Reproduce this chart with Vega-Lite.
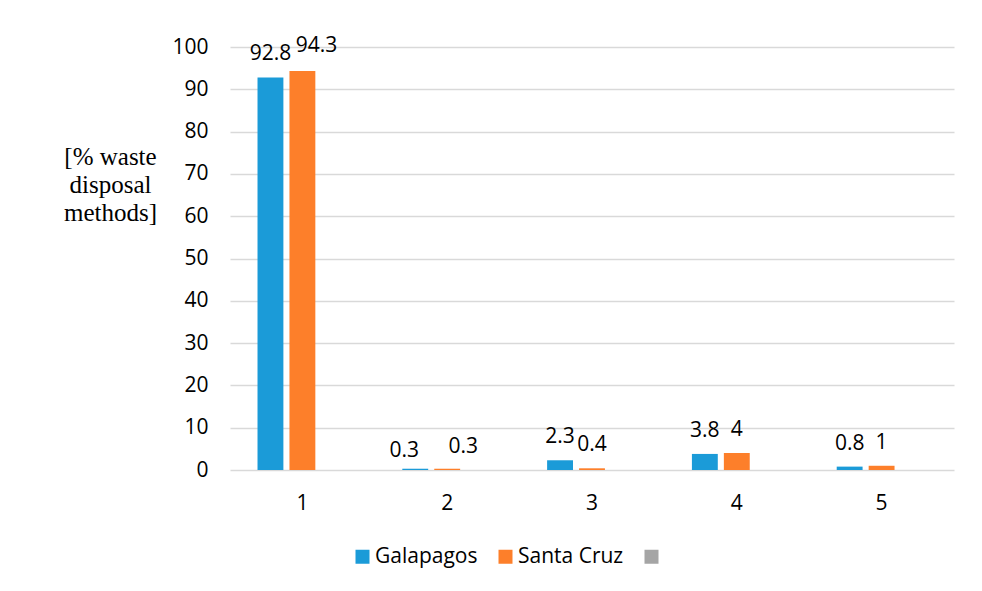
{
  "$schema": "https://vega.github.io/schema/vega-lite/v6.json",
  "autosize": {"type": "none"},
  "width": 724,
  "height": 423,
  "padding": {"left": 230, "top": 47, "right": 28, "bottom": 121},
  "background": "white",
  "config": {
    "view": {"stroke": null},
    "font": "Open Sans",
    "axis": {"labelFont": "Open Sans", "labelFontSize": 21, "labelColor": "#000000"}
  },
  "data": {
    "values": [
      {"cat": "1", "series": "Galapagos", "value": 92.8},
      {"cat": "1", "series": "Santa Cruz", "value": 94.3},
      {"cat": "1", "series": "Series3", "value": 0},
      {"cat": "2", "series": "Galapagos", "value": 0.3},
      {"cat": "2", "series": "Santa Cruz", "value": 0.3},
      {"cat": "2", "series": "Series3", "value": 0},
      {"cat": "3", "series": "Galapagos", "value": 2.3},
      {"cat": "3", "series": "Santa Cruz", "value": 0.4},
      {"cat": "3", "series": "Series3", "value": 0},
      {"cat": "4", "series": "Galapagos", "value": 3.8},
      {"cat": "4", "series": "Santa Cruz", "value": 4},
      {"cat": "4", "series": "Series3", "value": 0},
      {"cat": "5", "series": "Galapagos", "value": 0.8},
      {"cat": "5", "series": "Santa Cruz", "value": 1},
      {"cat": "5", "series": "Series3", "value": 0}
    ]
  },
  "encoding": {
    "x": {
      "field": "cat", "type": "nominal",
      "scale": {"paddingInner": 0.38, "paddingOuter": 0.19},
      "axis": {"title": null, "labelAngle": 0, "domain": false, "ticks": false, "labelPadding": 22, "grid": false}
    },
    "xOffset": {"field": "series", "type": "nominal", "sort": ["Galapagos", "Santa Cruz", "Series3"], "scale": {"paddingInner": 0.19}},
    "y": {
      "field": "value", "type": "quantitative",
      "scale": {"domain": [0, 100], "nice": false},
      "axis": {
        "values": [0, 10, 20, 30, 40, 50, 60, 70, 80, 90, 100],
        "domain": false, "ticks": false, "labelPadding": 22,
        "grid": true, "gridColor": "#d9d9d9", "gridWidth": 1.5,
        "title": ["[% waste", "disposal", "methods]"],
        "titleFont": "Liberation Serif", "titleFontSize": 25, "titleFontWeight": "normal",
        "titleColor": "#000000", "titleAngle": 0, "titleAlign": "center",
        "titleBaseline": "top", "titleLineHeight": 28, "titleX": -120, "titleY": 97
      }
    }
  },
  "layer": [
    {
      "mark": {"type": "bar"},
      "encoding": {
        "color": {
          "field": "series", "type": "nominal",
          "scale": {"domain": ["Galapagos", "Santa Cruz", "Series3"], "range": ["#1B9BD8", "#FD7F2A", "#A5A5A5"]},
          "legend": {
            "title": null, "orient": "none", "direction": "horizontal",
            "legendX": 122, "legendY": 499,
            "symbolType": "square", "symbolSize": 196, "symbolStrokeWidth": 0,
            "labelFont": "Open Sans", "labelFontSize": 21, "labelColor": "#000000",
            "labelOffset": 2, "columnPadding": 17,
            "labelExpr": "datum.label == 'Series3' ? '' : datum.label"
          }
        }
      }
    },
    {
      "transform": [{"filter": "datum.series != 'Series3' && datum.cat != '2' && !(datum.cat == '1' && datum.series == 'Santa Cruz')"}],
      "mark": {"type": "text", "baseline": "alphabetic", "dy": -17, "fontSize": 21, "font": "Open Sans", "color": "#000000"},
      "encoding": {"text": {"field": "value", "type": "quantitative"}}
    },
    {
      "transform": [{"filter": "datum.series == 'Santa Cruz' && datum.cat == '1'"}],
      "mark": {"type": "text", "baseline": "alphabetic", "dy": -19, "dx": 14, "fontSize": 21, "font": "Open Sans", "color": "#000000"},
      "encoding": {"text": {"field": "value", "type": "quantitative"}}
    },
    {
      "transform": [{"filter": "datum.series == 'Galapagos' && datum.cat == '2'"}],
      "mark": {"type": "text", "baseline": "alphabetic", "dy": -12, "dx": -11, "fontSize": 21, "font": "Open Sans", "color": "#000000"},
      "encoding": {"text": {"field": "value", "type": "quantitative"}}
    },
    {
      "transform": [{"filter": "datum.series == 'Santa Cruz' && datum.cat == '2'"}],
      "mark": {"type": "text", "baseline": "alphabetic", "dy": -16, "dx": 16, "fontSize": 21, "font": "Open Sans", "color": "#000000"},
      "encoding": {"text": {"field": "value", "type": "quantitative"}}
    }
  ]
}
